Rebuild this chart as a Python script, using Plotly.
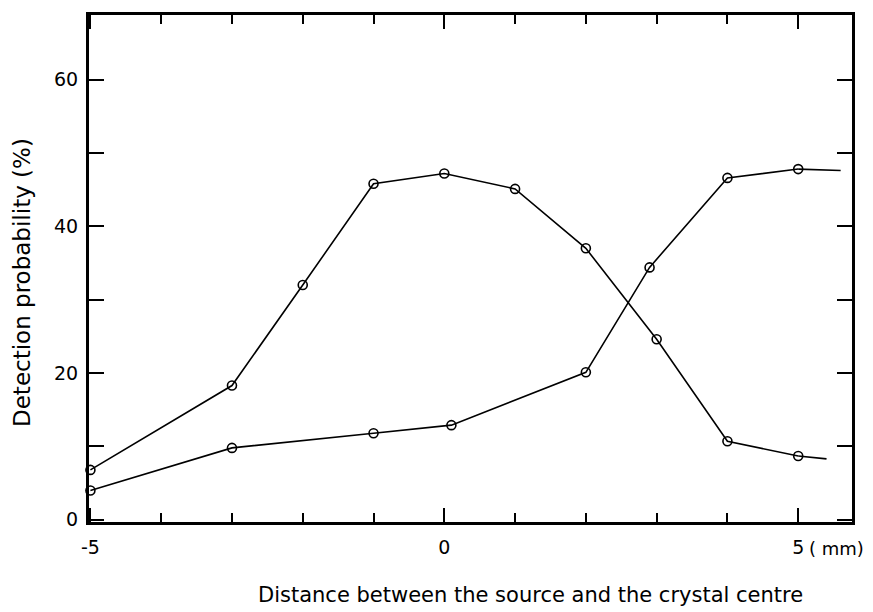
import plotly.graph_objects as go

# Series A: peaked curve
xa = [-5, -3, -2, -1, 0, 1, 2, 3, 4, 5]
ya = [6.8, 18.3, 32.0, 45.8, 47.2, 45.1, 37.0, 24.6, 10.7, 8.7]
xa_tail = [5, 5.4]
ya_tail = [8.7, 8.3]

# Series B: rising curve
xb = [-5, -3, -1, 0.1, 2, 2.9, 4, 5]
yb = [4.0, 9.8, 11.8, 12.9, 20.1, 34.4, 46.6, 47.8]
xb_tail = [5, 5.6]
yb_tail = [47.8, 47.6]

x_ticks = [-5, 0, 5]
x_ticktext = ["-5", "0", "5"]
y_ticks = [0, 20, 40, 60]

FONT = "DejaVu Sans"
line_style = dict(color="black", width=1.6)
marker_style = dict(symbol="circle-open", size=9, color="black", line=dict(width=1.6))

fig = go.Figure()
for xs, ys in [(xa, ya), (xb, yb)]:
    fig.add_trace(go.Scatter(x=xs, y=ys, mode="lines+markers", line=line_style,
                             marker=marker_style, showlegend=False, cliponaxis=False))
for xs, ys in [(xa_tail, ya_tail), (xb_tail, yb_tail)]:
    fig.add_trace(go.Scatter(x=xs, y=ys, mode="lines", line=line_style, showlegend=False))

fig.update_layout(
    width=873, height=612,
    margin=dict(l=89, r=21, t=15, b=90),
    paper_bgcolor="white", plot_bgcolor="white",
    font=dict(family=FONT, color="black", size=19),
    xaxis=dict(range=[-5.02, 5.76], tickvals=x_ticks, ticktext=x_ticktext, automargin=False,
               ticks="inside", ticklen=14, tickwidth=1.5, tickcolor="black", ticklabelstandoff=6,
               minor=dict(dtick=1, ticks="inside", ticklen=9, tickwidth=1.5, tickcolor="black"),
               showline=True, linecolor="black", linewidth=3, mirror="ticks",
               showgrid=False, zeroline=False, tickfont=dict(size=19, family=FONT)),
    yaxis=dict(range=[-0.3, 68.8], tickvals=y_ticks, automargin=False,
               ticks="inside", ticklen=15, tickwidth=1.5, tickcolor="black", ticklabelstandoff=4,
               minor=dict(dtick=10, ticks="inside", ticklen=15, tickwidth=1.5, tickcolor="black"),
               showline=True, linecolor="black", linewidth=3, mirror="ticks",
               showgrid=False, zeroline=False, tickfont=dict(size=19, family=FONT)),
)

fig.add_annotation(text="( mm)", xref="paper", yref="paper", x=(866 - 89) / 763, y=-(548 - 522) / 507,
                   xanchor="right", yanchor="middle", showarrow=False, font=dict(size=18, family=FONT))
fig.add_annotation(text="Distance between the source and the crystal centre", xref="paper", yref="paper",
                   x=(530 - 89) / 763, y=-(595 - 522) / 507, xanchor="center", yanchor="middle",
                   showarrow=False, font=dict(size=21, family=FONT))
fig.add_annotation(text="Detection probability (%)", xref="paper", yref="paper",
                   x=-(89 - 22) / 763, y=(522 - 283) / 507, xanchor="center", yanchor="middle",
                   textangle=-90, showarrow=False, font=dict(size=23, family=FONT))

fig.write_html("out.html", config={"displayModeBar": False},
               post_script="document.body.style.margin='0';")
